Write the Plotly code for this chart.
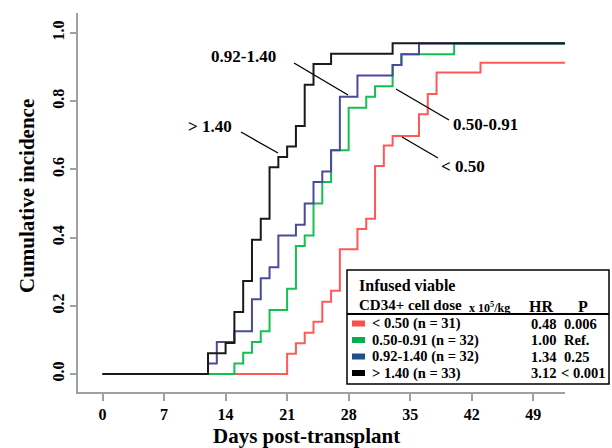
import plotly.graph_objects as go

# ---------------- data ----------------
follow_up_end = 52.6

days_lt050 = [0, 21, 22, 23, 24, 25, 26, 27, 29, 30, 31, 32, 33, 36, 37, 38, 43, follow_up_end]
ci_lt050 = [0, 0.059, 0.090, 0.121, 0.153, 0.212, 0.244, 0.366, 0.425, 0.455, 0.610, 0.670, 0.698,
            0.762, 0.821, 0.884, 0.913, 0.913]

days_050_091 = [0, 15, 16, 17, 18, 19, 21, 22, 23, 24, 25, 26, 28, 30, 31, 33, 34, 40, follow_up_end]
ci_050_091 = [0, 0.031, 0.062, 0.094, 0.125, 0.188, 0.250, 0.375, 0.406, 0.500, 0.563, 0.656,
              0.781, 0.813, 0.844, 0.906, 0.938, 0.969, 0.969]

days_092_140 = [0, 12, 13, 15, 17, 18, 19, 20, 22, 23, 24, 25, 26, 27, 29, 33, 34, 36, follow_up_end]
ci_092_140 = [0, 0.031, 0.094, 0.125, 0.219, 0.281, 0.313, 0.406, 0.438, 0.500, 0.563, 0.594,
              0.656, 0.813, 0.875, 0.906, 0.938, 0.969, 0.969]

days_gt140 = [0, 12, 14, 15, 16, 17, 18, 19, 20, 21, 22, 23, 24, 26, 33, follow_up_end]
ci_gt140 = [0, 0.061, 0.091, 0.182, 0.273, 0.394, 0.455, 0.606, 0.636, 0.667, 0.727, 0.848,
            0.909, 0.939, 0.970, 0.970]

group_labels = ["< 0.50 (n = 31)", "0.50-0.91 (n = 32)", "0.92-1.40 (n = 32)", "> 1.40 (n = 33)"]
hr_values = ["0.48", "1.00", "1.34", "3.12"]
p_values = ["0.006", "Ref.", "0.25", "< 0.001"]
curve_labels = ["< 0.50", "0.50-0.91", "0.92-1.40", "> 1.40"]

x_ticks = [0, 7, 14, 21, 28, 35, 42, 49]
y_ticks = [0.0, 0.2, 0.4, 0.6, 0.8, 1.0]
y_tick_text = ["0.0", "0.2", "0.4", "0.6", "0.8", "1.0"]

line_colors = ["#FF5858", "#14C050", "#4A4A9C", "#1A1A1A"]
swatch_colors = ["#FF4D4D", "#00B04F", "#1F4E8C", "#000000"]

# ---------------- layout geometry ----------------
W, H = 612, 448
L, R, T, B = 78, 47, 13, 56
PW, PH = W - L - R, H - T - B
FONT = "Liberation Serif"


def fx(x):
    return (x - L) / PW


def fy(y):
    return (H - B - y) / PH


fig = go.Figure()
series = [(days_lt050, ci_lt050), (days_050_091, ci_050_091),
          (days_092_140, ci_092_140), (days_gt140, ci_gt140)]
for (d, c), col, name in zip(series, line_colors, curve_labels):
    fig.add_trace(go.Scatter(x=d, y=c, mode="lines", line=dict(color=col, width=2, shape="hv"),
                             name=name, showlegend=False, hoverinfo="skip"))

axis_grey = "#A0A0A0"
fig.update_layout(
    width=W, height=H,
    margin=dict(l=L, r=R, t=T, b=B),
    paper_bgcolor="white", plot_bgcolor="white",
    xaxis=dict(range=[-2.79, 52.61], tickvals=x_ticks, ticks="outside", ticklen=7,
               tickcolor=axis_grey, tickwidth=1.5, showline=True, linecolor=axis_grey,
               linewidth=1.5, showgrid=False, zeroline=False,
               tickfont=dict(family=FONT, size=16, color="black", weight="bold")),
    yaxis=dict(range=[-0.0528, 1.0586], tickvals=y_ticks, ticktext=y_tick_text, tickangle=-90,
               ticks="outside", ticklen=6, tickcolor=axis_grey, tickwidth=1.5, showline=True,
               linecolor=axis_grey, linewidth=1.5, showgrid=False, zeroline=False,
               tickfont=dict(family=FONT, size=16, color="black", weight="bold")),
)

annotations = []
shapes = []


def text(x, y, s, size, xanchor="center", yanchor="middle", angle=0, weight="bold"):
    annotations.append(dict(x=fx(x), y=fy(y), xref="paper", yref="paper", text=s, showarrow=False,
                            xanchor=xanchor, yanchor=yanchor, textangle=angle,
                            font=dict(family=FONT, size=size, color="black", weight=weight)))


def seg(x0, y0, x1, y1, width=1.3, color="black"):
    shapes.append(dict(type="line", xref="paper", yref="paper", x0=fx(x0), y0=fy(y0),
                       x1=fx(x1), y1=fy(y1), line=dict(color=color, width=width)))


# axis titles
text(306, 436, "Days post-transplant", 21)
text(27, 196, "Cumulative incidence", 21, angle=-90)

# curve labels with leader lines
text(243, 56, curve_labels[2], 17)
seg(294, 63, 348, 95)
text(210, 126, curve_labels[3], 17)
seg(241, 132, 278, 153)
text(485, 125, curve_labels[1], 17)
seg(396, 89, 449, 120)
text(463, 167, curve_labels[0], 17)
seg(402, 137, 438, 158)

# legend table
shapes.append(dict(type="rect", xref="paper", yref="paper", x0=fx(347), y0=fy(384), x1=fx(609),
                   y1=fy(270), line=dict(color="black", width=1.5), fillcolor="white", layer="above"))
seg(347, 314, 609, 314, width=2)
text(357, 285, "Infused viable", 16, xanchor="left")
text(357, 305, "CD34+ cell dose", 15, xanchor="left")
text(467, 307, "x 10<sup>5</sup>/kg", 12, xanchor="left")
text(541, 306, "HR", 16)
text(583, 306, "P", 16)
row_y = [323.5, 340, 356.5, 373]
for ry, lab, hr, pv, sc in zip(row_y, group_labels, hr_values, p_values, swatch_colors):
    shapes.append(dict(type="rect", xref="paper", yref="paper", x0=fx(352), x1=fx(365),
                       y0=fy(ry + 3), y1=fy(ry - 3), line=dict(width=0), fillcolor=sc,
                       layer="above"))
    text(370, ry, lab, 14.5, xanchor="left")
    text(529, ry, hr, 14.5, xanchor="left")
    text(562 if pv != "< 0.001" else 559, ry, pv, 14.5, xanchor="left")

fig.update_layout(annotations=annotations, shapes=shapes)
fig.write_html("out.html", config={"displayModeBar": False},
               post_script="document.body.style.margin='0';document.body.style.overflow='hidden';")
